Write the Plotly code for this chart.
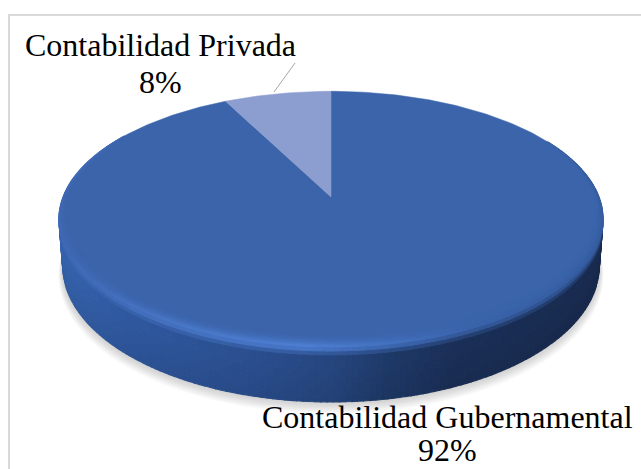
import math
import plotly.graph_objects as go

categories = ["Contabilidad Gubernamental", "Contabilidad Privada"]
values = [92.5, 7.5]
percent_labels = ["92%", "8%"]
slice_colors = ["#3b64ab", "#8c9dcf"]

W, H = 641, 469
CX, CY, RX, RY, K, DEPTH = 331, 197, 268, 124, 0.173, 45.5


def proj(r, f, h=0.0):
    X = r * math.sin(2 * math.pi * f)
    Y = -r * math.cos(2 * math.pi * f)
    s = 1 / (1 - K * Y)
    return CX + RX * X * s * (1 - 0.014 * h), CY + RY * Y * s + DEPTH * h * s


def hex2(c):
    return tuple(int(c[i:i + 2], 16) for i in (1, 3, 5))


def mix(a, b, t):
    t = max(0.0, min(1.0, t))
    return tuple(a[i] + (b[i] - a[i]) * t for i in range(3))


def ramp(stops, u):
    for (u0, c0), (u1, c1) in zip(stops, stops[1:]):
        if u <= u1:
            return mix(hex2(c0), hex2(c1), (u - u0) / (u1 - u0))
    return hex2(stops[-1][1])


SIDE = [(0, "#3763ad"), (0.12, "#3059a0"), (0.35, "#2b4f8f"), (0.5, "#26467f"),
        (0.6, "#1f3a69"), (0.72, "#1b3058"), (1, "#1a2c50")]
RIM = [(0, "#4069b6"), (0.2, "#4a78c8"), (0.45, "#5082d8"), (0.6, "#4574c4"),
       (0.75, "#3a63ab"), (1, "#335a9c")]
TOP = hex2(slice_colors[0])

fig = go.Figure()


def poly(pts, color, width=0.0):
    xs = [p[0] for p in pts] + [pts[0][0]]
    ys = [p[1] for p in pts] + [pts[0][1]]
    fig.add_trace(go.Scatter(x=xs, y=ys, mode="lines", fill="toself", fillcolor=color,
                             line=dict(color=color, width=width), hoverinfo="skip",
                             showlegend=False))


def flush(bins, width):
    for key, items in sorted(bins.items()):
        xs, ys = [], []
        for pts in items:
            for p in pts + [pts[0]]:
                xs.append(p[0]); ys.append(p[1])
            xs.append(None); ys.append(None)
        fig.add_trace(go.Scatter(x=xs, y=ys, mode="lines", fill="toself", fillcolor=key,
                                 line=dict(color=key, width=width), hoverinfo="skip", showlegend=False))


def quad(bins, pts, col):
    key = "#%02x%02x%02x" % tuple(min(255, int(round(v / 2) * 2)) for v in col)
    bins.setdefault(key, []).append(pts)


# soft shadow
for i in range(10):
    g = 10 - i
    pts = []
    for j in range(180):
        f = j / 180
        x, y = proj(1, f, 1)
        pts.append((CX + (x - CX) * (1 + g * 0.0016), (CY + 30) + (y - (CY + 30)) * (1 + g * 0.0016) + g * 0.9))
    poly(pts, "rgba(110,110,110,0.035)")

NA = 220
F0, F1 = 0.17, 0.84
SH = [i / 14 for i in range(15)]

# wall
bins = {}
for a in range(NA):
    f0 = F0 + (F1 - F0) * a / NA
    f1 = F0 + (F1 - F0) * (a + 1) / NA
    fm = (f0 + f1) / 2
    x, _ = proj(1, fm)
    u = max(0.0, min(1.0, (x - 59) / 544))
    side = ramp(SIDE, u)
    rim = ramp(RIM, u)
    for h0, h1 in zip(SH, SH[1:]):
        hm = (h0 + h1) / 2
        c = mix(rim, side, hm / 0.16)
        c = mix(c, tuple(v * 0.93 for v in side), (hm - 0.3) / 0.7)
        quad(bins, [proj(1, f0, h0), proj(1, f1, h0), proj(1, f1, h1), proj(1, f0, h1)], c)
flush(bins, 1.1)

# top face slices from the values
total = sum(values)
start = 0.0
for v, col in zip(values, slice_colors):
    frac = v / total
    n = max(8, int(frac * 360))
    pts = [(CX, CY)] + [proj(1, start + frac * j / n) for j in range(n + 1)]
    poly(pts, col, 0.5)
    start += frac

# bevel on the main slice's front edge
bins = {}
TS = [i / 10 for i in range(11)]
for a in range(NA):
    f0 = F0 + (F1 - F0) * a / NA
    f1 = F0 + (F1 - F0) * (a + 1) / NA
    fm = (f0 + f1) / 2
    x, _ = proj(1, fm)
    u = max(0.0, min(1.0, (x - 59) / 544))
    rim = ramp(RIM, u)
    Y = -math.cos(2 * math.pi * fm)
    w = 0.022 + 0.05 * max(0.0, Y)
    taper = min(1.0, (F1 - fm) / 0.05, (fm - F0) / 0.05)
    for t0, t1 in zip(TS, TS[1:]):
        r0, r1 = 1 - w * (1 - t0), 1 - w * (1 - t1)
        tm = (t0 + t1) / 2
        quad(bins, [proj(r0, f0), proj(r0, f1), proj(r1, f1), proj(r1, f0)], mix(TOP, rim, tm * tm * taper))
flush(bins, 0.9)

# leader line
fig.add_trace(go.Scatter(x=[295, 274], y=[63, 92], mode="lines",
                         line=dict(color="#a6a6a6", width=1), hoverinfo="skip", showlegend=False))

FONT = dict(family="Liberation Serif", size=32, color="#000000")
label_pos = [((447, 417), (447, 450)), ((160, 45), (160, 82))]
ann = []
for c, p, (p1, p2) in zip(categories, percent_labels, label_pos):
    ann.append(dict(x=p1[0], y=p1[1], text=c, showarrow=False, font=FONT, xref="x", yref="y"))
    ann.append(dict(x=p2[0], y=p2[1], text=p, showarrow=False, font=FONT, xref="x", yref="y"))

fig.update_layout(
    width=W, height=H, margin=dict(l=0, r=0, t=0, b=0), paper_bgcolor="white", plot_bgcolor="white",
    xaxis=dict(range=[0, W], visible=False, fixedrange=True),
    yaxis=dict(range=[H, 0], visible=False, fixedrange=True),
    annotations=ann, showlegend=False,
    shapes=[dict(type="rect", xref="x", yref="y", x0=9, y0=15, x1=700, y1=520,
                 line=dict(color="#d9d9d9", width=2), layer="below")],
)
fig.write_html("out.html", config={"displayModeBar": False},
               post_script="document.body.style.margin='0';document.documentElement.style.overflow='hidden';")
